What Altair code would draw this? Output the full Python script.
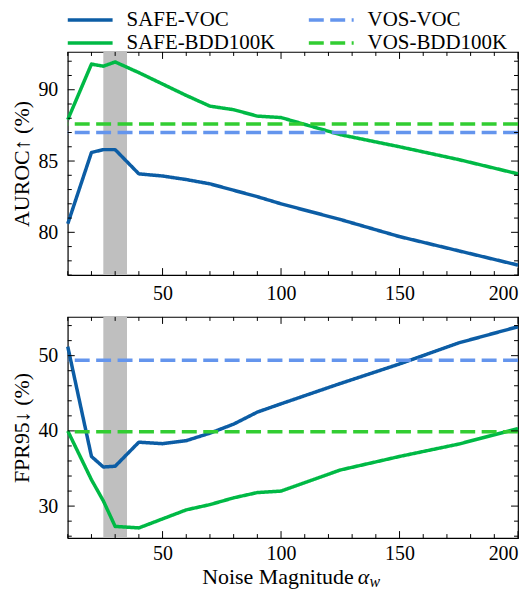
import altair as alt
import pandas as pd

# ---------------- data ----------------
x_vals = [10, 20, 25, 30, 40, 50, 60, 70, 80, 90, 100, 125, 150, 175, 200]
auroc_safe_voc = [80.6, 85.6, 85.8, 85.8, 84.1, 83.95, 83.7, 83.4, 82.95, 82.5, 82.0, 80.9, 79.7, 78.7, 77.7]
auroc_safe_bdd = [87.9, 91.8, 91.65, 91.95, 91.2, 90.4, 89.6, 88.85, 88.6, 88.15, 88.05, 86.85, 86.0, 85.1, 84.1]
auroc_vos_voc = 87.0
auroc_vos_bdd = 87.6

fpr_safe_voc = [51.2, 36.6, 35.2, 35.3, 38.5, 38.3, 38.7, 39.7, 40.9, 42.5, 43.6, 46.3, 48.9, 51.7, 53.85]
fpr_safe_bdd = [40.0, 33.5, 30.7, 27.3, 27.1, 28.3, 29.5, 30.2, 31.1, 31.8, 32.0, 34.8, 36.6, 38.25, 40.3]
fpr_vos_voc = 49.4
fpr_vos_bdd = 39.9

band = [25, 35]

series_order = ["SAFE-VOC", "SAFE-BDD100K", "VOS-VOC", "VOS-BDD100K"]
series_colors = ["#0C5DA5", "#00B945", "#6495ED", "#32CD32"]
series_dashes = [[1, 0], [1, 0], [15, 6.5], [15, 6.5]]

x_domain = [10, 200]
x_major = [50, 100, 150, 200]
x_minor = [v for v in range(10, 201, 10) if v not in x_major]

auroc_domain = [77.0, 92.65]
auroc_major = [80, 85, 90]
auroc_minor = [v for v in range(77, 93) if v not in auroc_major]

fpr_domain = [25.75, 55.15]
fpr_major = [30, 40, 50]
fpr_minor = [v for v in range(26, 56, 2) if v not in fpr_major]

FONT = "Liberation Serif"
W = 452
H_TOP, H_BOT = 224, 222
MAJ, MIN = 7, 4

legend_cfg = alt.Legend(
    title=None, orient="none", legendX=-2, legendY=-43, columns=2, direction="vertical",
    symbolType="M-1,0H4", symbolSize=324, symbolStrokeWidth=3.5,
    labelFont=FONT, labelFontSize=21, labelColor="black", labelOffset=39,
    columnPadding=26, rowPadding=2, labelLimit=300,
)


def panel(safe_voc, safe_bdd, vos_voc, vos_bdd, y_domain, y_major, y_minor, y_title, H, bottom):
    xs = alt.Scale(domain=x_domain, nice=False, zero=False)
    ys = alt.Scale(domain=y_domain, nice=False, zero=False)
    xax = alt.Axis(values=x_major, title=None, labelPadding=6 if bottom else 9, format="d")
    yax = alt.Axis(values=y_major, title=y_title, labelPadding=10, titlePadding=4, format="d")
    color = alt.Color("series:N", scale=alt.Scale(domain=series_order, range=series_colors), legend=legend_cfg)
    dash = alt.StrokeDash("series:N", scale=alt.Scale(domain=series_order, range=series_dashes), legend=legend_cfg)

    lines_df = pd.DataFrame({
        "x": x_vals * 2,
        "y": safe_voc + safe_bdd,
        "series": ["SAFE-VOC"] * len(x_vals) + ["SAFE-BDD100K"] * len(x_vals),
    })
    vos_df = pd.DataFrame({"y": [vos_voc, vos_bdd], "series": ["VOS-VOC", "VOS-BDD100K"]})
    band_df = pd.DataFrame({"x": [band[0]], "x1": [band[1]]})

    band_layer = alt.Chart(band_df).mark_rect(color="#bfbfbf").encode(
        x=alt.X("x:Q", scale=xs, axis=xax), x2="x1:Q",
        y=alt.value(0), y2=alt.value(H))

    line_layer = alt.Chart(lines_df).mark_line(strokeWidth=3.5, strokeJoin="round").encode(
        x=alt.X("x:Q", scale=xs, axis=xax),
        y=alt.Y("y:Q", scale=ys, axis=yax),
        color=color, strokeDash=dash,
        order=alt.Order("x:Q"))

    vos_layer = alt.Chart(vos_df).mark_rule(strokeWidth=3.5).encode(
        y=alt.Y("y:Q", scale=ys, axis=yax), color=color, strokeDash=dash)

    def xt(vals, ln):
        d = pd.DataFrame({"x": vals})
        b = alt.Chart(d).mark_rule(color="black", strokeWidth=1).encode(
            x=alt.X("x:Q", scale=xs, axis=xax), y=alt.value(H), y2=alt.value(H - ln))
        t = alt.Chart(d).mark_rule(color="black", strokeWidth=1).encode(
            x=alt.X("x:Q", scale=xs, axis=xax), y=alt.value(0), y2=alt.value(ln))
        return [b, t]

    def yt(vals, ln):
        d = pd.DataFrame({"y": vals})
        l = alt.Chart(d).mark_rule(color="black", strokeWidth=1).encode(
            y=alt.Y("y:Q", scale=ys, axis=yax), x=alt.value(0), x2=alt.value(ln))
        r = alt.Chart(d).mark_rule(color="black", strokeWidth=1).encode(
            y=alt.Y("y:Q", scale=ys, axis=yax), x=alt.value(W), x2=alt.value(W - ln))
        return [l, r]

    layers = [band_layer, line_layer, vos_layer] + xt(x_major, MAJ) + xt(x_minor, MIN) + yt(y_major, MAJ) + yt(y_minor, MIN)

    if bottom:
        t1 = alt.Chart(band_df).mark_text(text="Noise Magnitude", font=FONT, fontSize=22, align="right",
                                          baseline="alphabetic", color="black").encode(
            x=alt.value(287), y=alt.value(H + 46))
        t2 = alt.Chart(band_df).mark_text(text="α", font=FONT, fontSize=22, fontStyle="italic", align="left",
                                          baseline="alphabetic", color="black").encode(
            x=alt.value(291), y=alt.value(H + 46))
        t3 = alt.Chart(band_df).mark_text(text="w", font=FONT, fontSize=16, fontStyle="italic", align="left",
                                          baseline="alphabetic", color="black").encode(
            x=alt.value(303), y=alt.value(H + 49))
        layers += [t1, t2, t3]

    return alt.layer(*layers).properties(width=W, height=H)


top = panel(auroc_safe_voc, auroc_safe_bdd, auroc_vos_voc, auroc_vos_bdd,
            auroc_domain, auroc_major, auroc_minor, "AUROC↑ (%)", H_TOP, False)
bot = panel(fpr_safe_voc, fpr_safe_bdd, fpr_vos_voc, fpr_vos_bdd,
            fpr_domain, fpr_major, fpr_minor, "FPR95↓ (%)", H_BOT, True)

chart = alt.vconcat(top, bot, spacing=42, bounds="flush").properties(
    padding={"left": 2, "top": 0, "right": 2, "bottom": 0}
).configure_axis(
    labelFont=FONT, labelFontSize=20, labelColor="black",
    titleFont=FONT, titleFontSize=22, titleFontWeight="normal", titleColor="black",
    ticks=False, domain=False, grid=False,
).configure_legend(
    labelFont=FONT, labelFontSize=21, labelColor="black",
).configure_view(stroke="black", strokeWidth=1.2)

chart.save("out.html", embed_options={"renderer": "svg", "actions": False})
